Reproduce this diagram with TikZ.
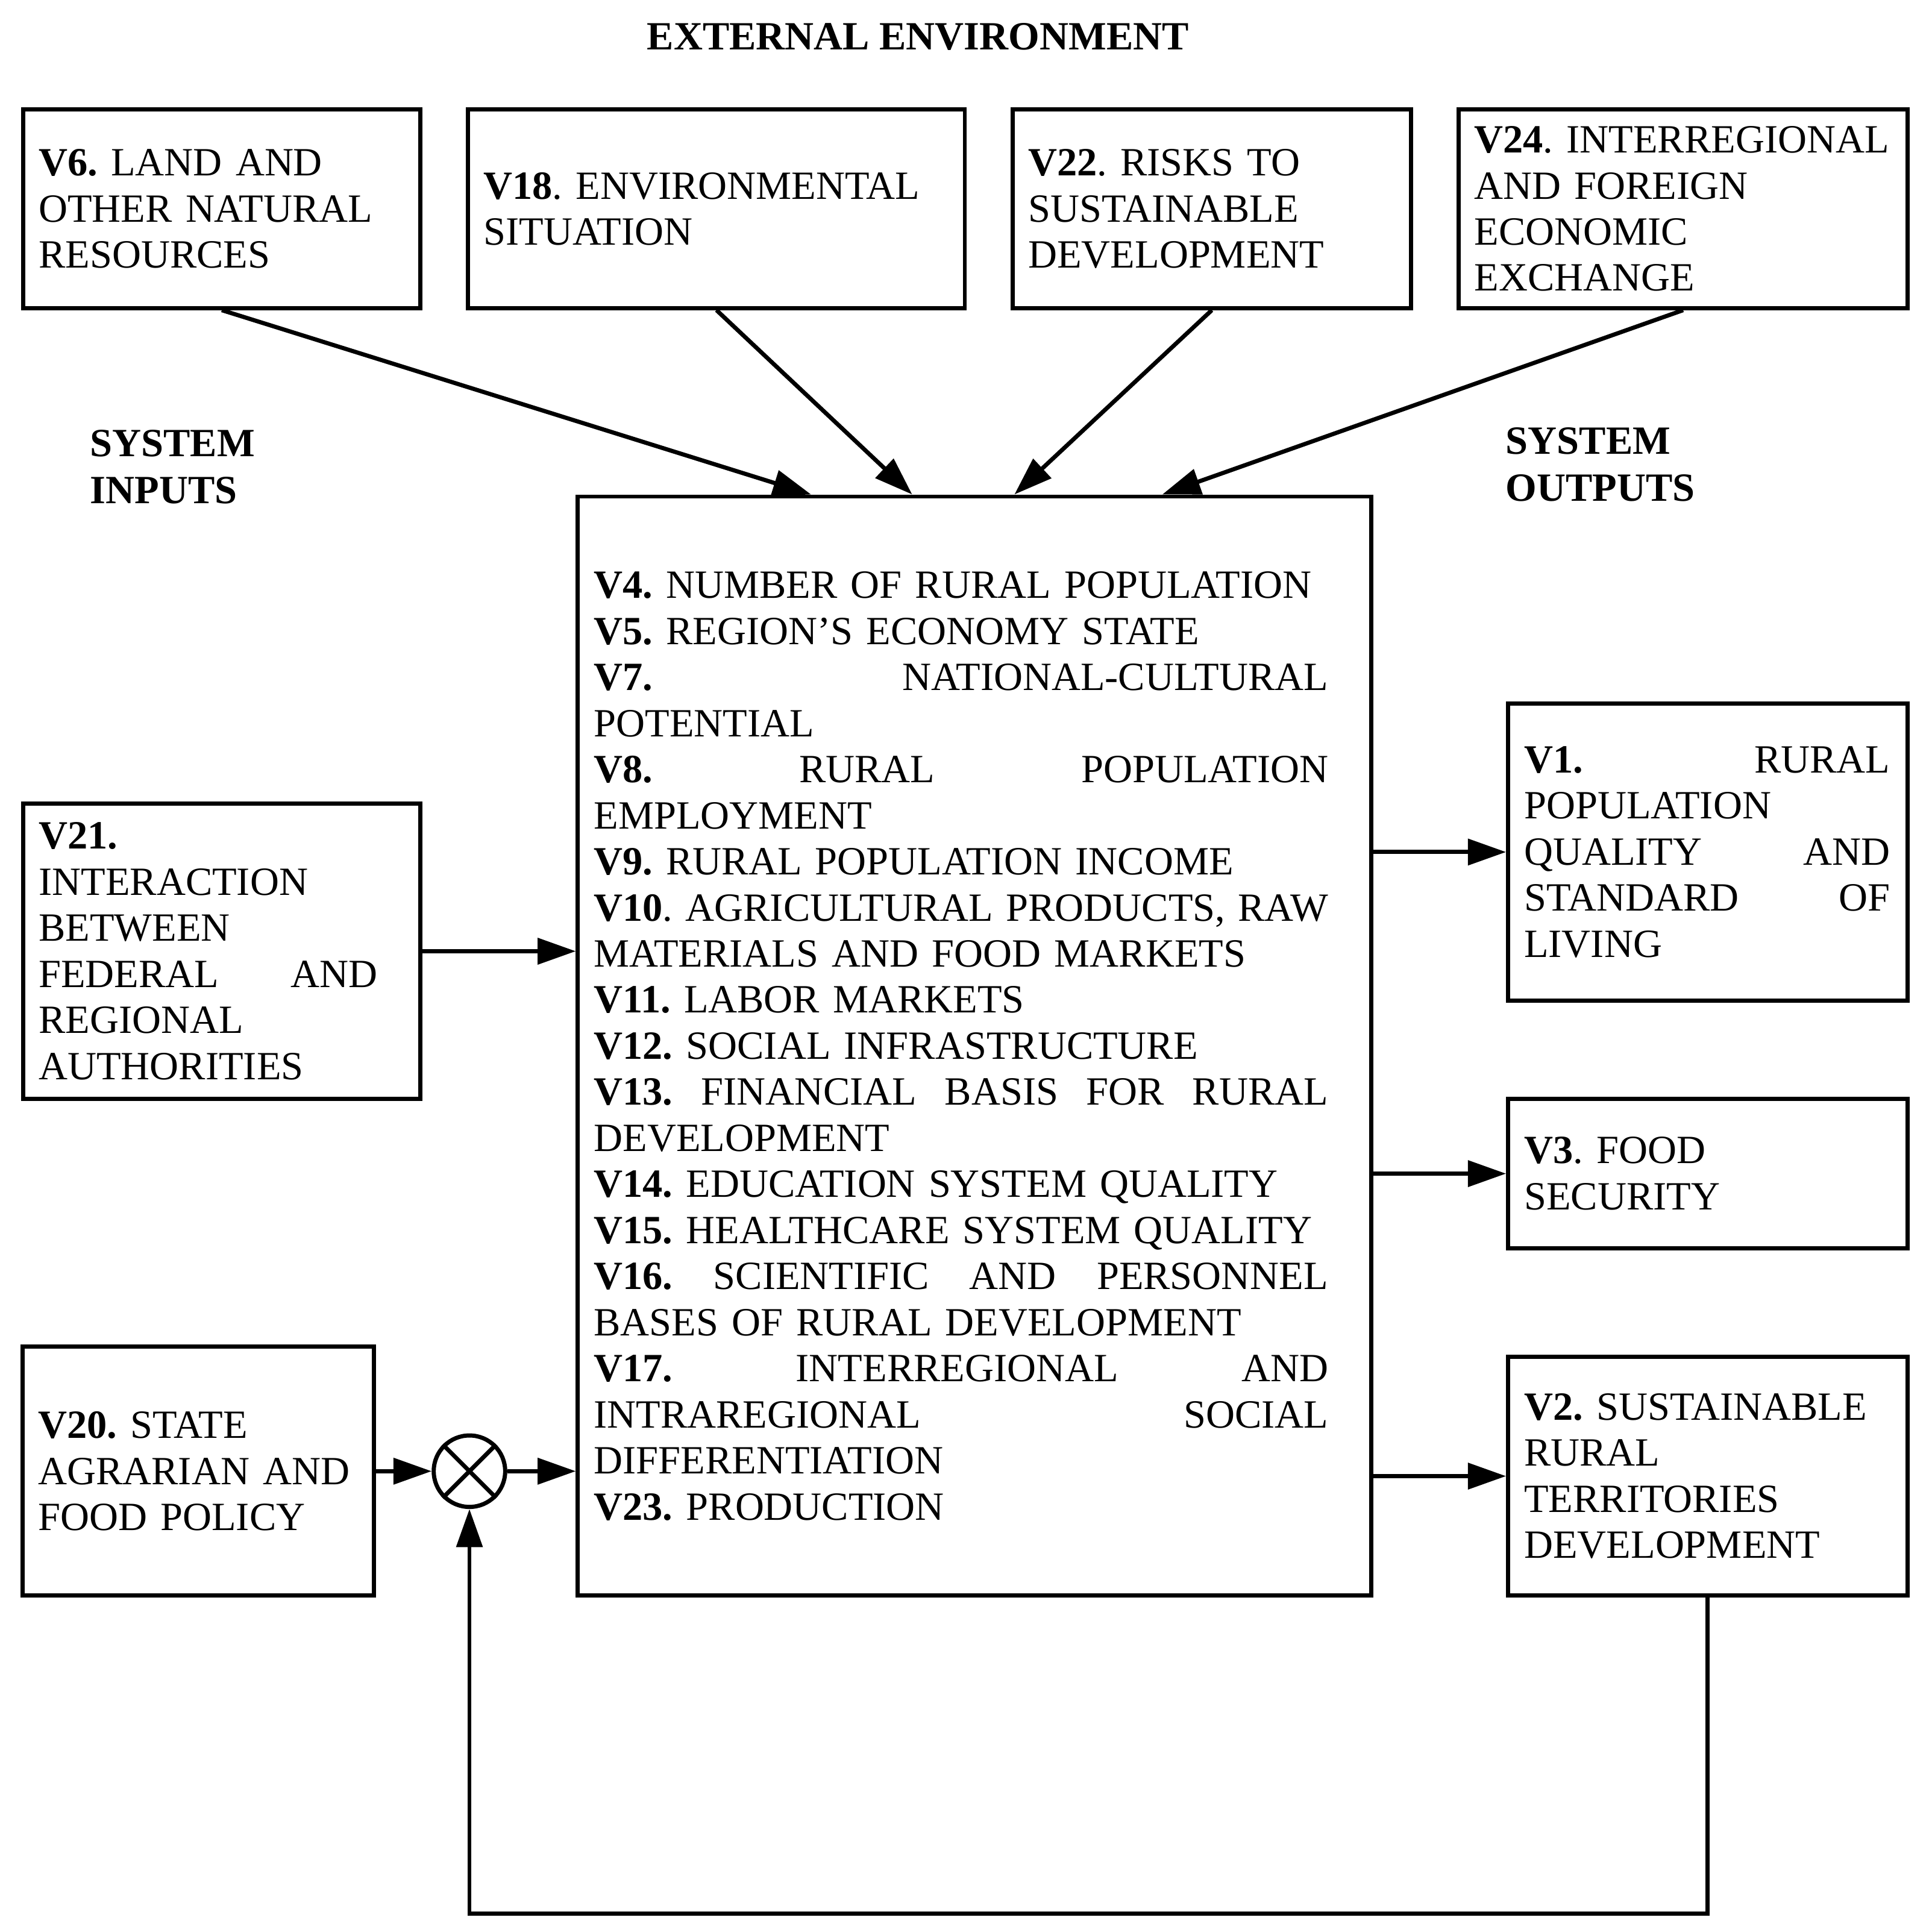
\documentclass[tikz,border=0pt]{standalone}
\usepackage{fontspec}
\setmainfont{Liberation Serif}
\usetikzlibrary{arrows.meta,calc}
\frenchspacing
\begin{document}
\begin{tikzpicture}[x=1pt,y=-1pt,
  box/.style={draw, line width=3.4pt, inner xsep=12.5pt, inner ysep=0pt, align=left,
    font=\fontsize{32.5}{37.4}\selectfont, anchor=center},
  lbl/.style={font=\fontsize{32.5}{38}\selectfont\bfseries, inner sep=0pt, align=left},
  conn/.style={line width=3.4pt, -{Triangle[length=31pt,width=21pt]}},
  ]
\useasboundingbox (0,0) rectangle (1568,1568);

% external environment
\node[box, text width=297pt, minimum width=322pt, minimum height=161pt] (v6) at (180,169.5)
  {\textbf{V6.} LAND AND\\OTHER NATURAL\\RESOURCES};
\node[box, text width=378pt, minimum width=403pt, minimum height=161pt] (v18) at (581.5,169.5)
  {\textbf{V18}. ENVIRONMENTAL\\SITUATION};
\node[box, text width=298pt, minimum width=323pt, minimum height=161pt] (v22) at (983.5,169.5)
  {\textbf{V22}. RISKS TO\\SUSTAINABLE\\DEVELOPMENT};
\node[box, text width=339pt, minimum width=364pt, minimum height=161pt] (v24) at (1366,169.5)
  {\mbox{\textbf{V24}. INTERREGIONAL}\\AND FOREIGN\\ECONOMIC\\EXCHANGE};

% main system
\node[box, text width=618pt, inner xsep=13pt, minimum width=644pt, minimum height=892pt] (main) at (791,849)
  {\textbf{V4.} NUMBER OF RURAL POPULATION\\
   \textbf{V5.} REGION’S ECONOMY STATE\\
   \makebox[596pt]{\textbf{V7.}\hfill NATIONAL-CULTURAL}\\
   POTENTIAL\\
   \makebox[596pt]{\textbf{V8.}\hfill RURAL\hfill POPULATION}\\
   EMPLOYMENT\\
   \textbf{V9.} RURAL POPULATION INCOME\\
   \makebox[596pt]{\textbf{V10}.\hfill AGRICULTURAL\hfill PRODUCTS,\hfill RAW}\\
   MATERIALS AND FOOD MARKETS\\
   \textbf{V11.} LABOR MARKETS\\
   \textbf{V12.} SOCIAL INFRASTRUCTURE\\
   \makebox[596pt]{\textbf{V13.}\hfill FINANCIAL\hfill BASIS\hfill FOR\hfill RURAL}\\
   DEVELOPMENT\\
   \textbf{V14.} EDUCATION SYSTEM QUALITY\\
   \textbf{V15.} HEALTHCARE SYSTEM QUALITY\\
   \makebox[596pt]{\textbf{V16.}\hfill SCIENTIFIC\hfill AND\hfill PERSONNEL}\\
   BASES OF RURAL DEVELOPMENT\\
   \makebox[596pt]{\textbf{V17.}\hfill INTERREGIONAL\hfill AND}\\
   \makebox[596pt]{INTRAREGIONAL\hfill SOCIAL}\\
   DIFFERENTIATION\\
   \textbf{V23.} PRODUCTION};

% inputs
\node[box, text width=297pt, minimum width=322pt, minimum height=240pt] (v21) at (180,772)
  {\textbf{V21.}\\INTERACTION\\BETWEEN\\\makebox[275pt]{FEDERAL\hfill AND}\\REGIONAL\\AUTHORITIES};
\node[box, text width=260pt, minimum width=284pt, minimum height=202pt] (v20) at (161,1194)
  {\textbf{V20.} STATE\\\mbox{AGRARIAN AND}\\FOOD POLICY};
\node[circle, draw, line width=3.4pt, minimum size=58pt, inner sep=0pt] (circ) at (381,1194) {};
\draw[line width=3.4pt] (circ.north west) -- (circ.south east)
                      (circ.north east) -- (circ.south west);

% outputs
\node[box, text width=298pt, inner xsep=13pt, minimum width=324pt, minimum height=241pt] (v1) at (1386,691.5)
  {\makebox[297pt]{\textbf{V1.}\hfill RURAL}\\POPULATION\\\makebox[297pt]{QUALITY\hfill AND}\\\makebox[297pt]{STANDARD\hfill OF}\\LIVING};
\node[box, text width=298pt, inner xsep=13pt, minimum width=324pt, minimum height=121pt] (v3) at (1386,952.5)
  {\textbf{V3}. FOOD\\SECURITY};
\node[box, text width=298pt, inner xsep=13pt, minimum width=324pt, minimum height=194pt] (v2) at (1386,1198)
  {\textbf{V2.} SUSTAINABLE\\RURAL\\TERRITORIES\\DEVELOPMENT};

% labels
\node[lbl] (tenv) at (745,30) {EXTERNAL ENVIRONMENT};
\node[lbl, anchor=west] (tin) at (73,379) {SYSTEM\\INPUTS};
\node[lbl, anchor=west] (tout) at (1222,377) {SYSTEM\\OUTPUTS};

% arrow ends on main box top
\coordinate (m1) at ($(main.north west)+(191,0)$);
\coordinate (m2) at ($(main.north west)+(273,0)$);
\coordinate (m3) at ($(main.north west)+(356,0)$);
\coordinate (m4) at ($(main.north west)+(476,0)$);
\coordinate (fb) at (0,1553);

\draw[conn] (v6.south) -- (m1);
\draw[conn] (v18.south) -- (m2);
\draw[conn] (v22.south) -- (m3);
\draw[conn] (v24.south) -- (m4);

\draw[conn] (v21.east) -- (v21.east -| main.west);
\draw[conn] (v20.east) -- (circ.west);
\draw[conn] (circ.east) -- (circ.east -| main.west);

\draw[conn] (v1.west -| main.east) -- (v1.west);
\draw[conn] (v3.west -| main.east) -- (v3.west);
\draw[conn] (v2.west -| main.east) -- (v2.west);

\draw[conn] (v2.south) -- (v2.south |- fb) -| (circ.south);
\end{tikzpicture}
\end{document}
